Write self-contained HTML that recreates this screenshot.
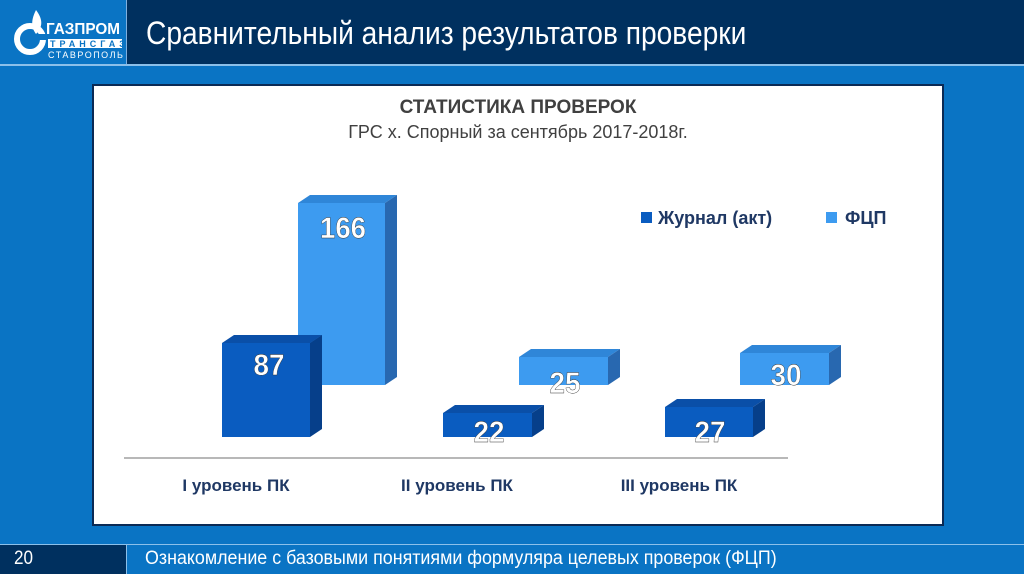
<!DOCTYPE html>
<html><head><meta charset="utf-8"><style>
body{margin:0;width:1024px;height:574px;overflow:hidden;background:#0a74c4;font-family:"Liberation Sans",sans-serif;position:relative}
div{position:absolute}
</style></head><body>
<div style="left:0;top:0;width:126px;height:64px;background:#0a74c4"></div>
<div style="left:126px;top:0;width:898px;height:64px;background:#00305f;border-left:1px solid #7fb0e0"></div>
<div style="left:0;top:64px;width:1024px;height:2px;background:#8cc0ea"></div>
<div style="left:146px;top:15px;color:#fff;font-size:32px;white-space:nowrap;transform:scaleX(0.88);transform-origin:0 0">Сравнительный анализ результатов проверки</div>
<svg style="position:absolute;left:12px;top:4px" width="112" height="56">
<circle cx="18" cy="35" r="13" fill="none" stroke="#fff" stroke-width="6"/>
<rect x="16" y="30" width="20" height="6" fill="#0a74c4"/>
<path d="M24 6 C30 14 32 22 24 30 C18 22 20 14 24 6Z" fill="#fff"/>
<text x="34" y="30" fill="#fff" font-family="Liberation Sans" font-weight="bold" font-size="16" textLength="74" lengthAdjust="spacingAndGlyphs">ГАЗПРОМ</text>
<rect x="36" y="35" width="74" height="9" fill="#fff"/>
<text x="38" y="43" fill="#0a74c4" font-family="Liberation Sans" font-weight="bold" font-size="9" letter-spacing="4">ТРАНСГАЗ</text>
<text x="36" y="54" fill="#fff" font-family="Liberation Sans" font-size="9" letter-spacing="1.5">СТАВРОПОЛЬ</text>
</svg>
<div style="left:92px;top:84px;width:848px;height:438px;background:#fff;border:2px solid #0b2a55"></div>
<svg style="position:absolute;left:0;top:0" width="1024" height="574" font-family="Liberation Sans">
<text x="518" y="113" text-anchor="middle" font-weight="bold" font-size="19" fill="#404040">СТАТИСТИКА ПРОВЕРОК</text>
<text x="518" y="138" text-anchor="middle" font-size="18" fill="#404040">ГРС х. Спорный за сентябрь 2017-2018г.</text>
<line x1="124" y1="458" x2="788" y2="458" stroke="#a0a0a0" stroke-width="1.5"/>
<g font-weight="bold" font-size="17" fill="#1f3864" text-anchor="middle">
<text x="236" y="491">I уровень ПК</text><text x="457" y="491">II уровень ПК</text><text x="679" y="491">III уровень ПК</text></g>
<rect x="641" y="212" width="11" height="11" fill="#0a5cc0"/>
<text x="658" y="224" font-weight="bold" font-size="18" fill="#1f3864">Журнал (акт)</text>
<rect x="826" y="212" width="11" height="11" fill="#3d9bf0"/>
<text x="845" y="224" font-weight="bold" font-size="18" fill="#1f3864">ФЦП</text>
<g>
<polygon points="298,203 310,195 397,195 385,203" fill="#2f86d8"/><polygon points="385,203 397,195 397,377 385,385" fill="#2868b0"/><rect x="298" y="203" width="87" height="182" fill="#3d9bf0"/>
<polygon points="222,343 234,335 322,335 310,343" fill="#0a4fa8"/><polygon points="310,343 322,335 322,429 310,437" fill="#063f8a"/><rect x="222" y="343" width="88" height="94" fill="#0a5cc0"/>
<polygon points="519,357 531,349 620,349 608,357" fill="#2f86d8"/><polygon points="608,357 620,349 620,377 608,385" fill="#2868b0"/><rect x="519" y="357" width="89" height="28" fill="#3d9bf0"/>
<polygon points="443,413 455,405 544,405 532,413" fill="#0a4fa8"/><polygon points="532,413 544,405 544,429 532,437" fill="#063f8a"/><rect x="443" y="413" width="89" height="24" fill="#0a5cc0"/>
<polygon points="740,353 752,345 841,345 829,353" fill="#2f86d8"/><polygon points="829,353 841,345 841,377 829,385" fill="#2868b0"/><rect x="740" y="353" width="89" height="32" fill="#3d9bf0"/>
<polygon points="665,407 677,399 765,399 753,407" fill="#0a4fa8"/><polygon points="753,407 765,399 765,429 753,437" fill="#063f8a"/><rect x="665" y="407" width="88" height="30" fill="#0a5cc0"/>
</g>
<g font-weight="bold" font-size="30" fill="#fff" text-anchor="middle" stroke="#333" stroke-width="0.4">
<text x="343" y="238" textLength="46" lengthAdjust="spacingAndGlyphs">166</text><text x="269" y="375" textLength="31" lengthAdjust="spacingAndGlyphs">87</text><text x="565" y="393" textLength="31" lengthAdjust="spacingAndGlyphs">25</text><text x="489" y="442" textLength="31" lengthAdjust="spacingAndGlyphs">22</text><text x="786" y="385" textLength="31" lengthAdjust="spacingAndGlyphs">30</text><text x="710" y="442" textLength="31" lengthAdjust="spacingAndGlyphs">27</text></g>
</svg>
<div style="left:0;top:544px;width:1024px;height:1px;background:#8cc0ea"></div>
<div style="left:0;top:545px;width:126px;height:29px;background:#00305f"></div>
<div style="left:126px;top:545px;width:1px;height:29px;background:#8cc0ea"></div>
<div style="left:14px;top:548px;color:#fff;font-size:19px;transform:scaleX(0.9);transform-origin:0 0">20</div>
<div style="left:145px;top:548px;color:#fff;font-size:19px;white-space:nowrap;transform:scaleX(0.94);transform-origin:0 0">Ознакомление с базовыми понятиями формуляра целевых проверок (ФЦП)</div>
</body></html>
